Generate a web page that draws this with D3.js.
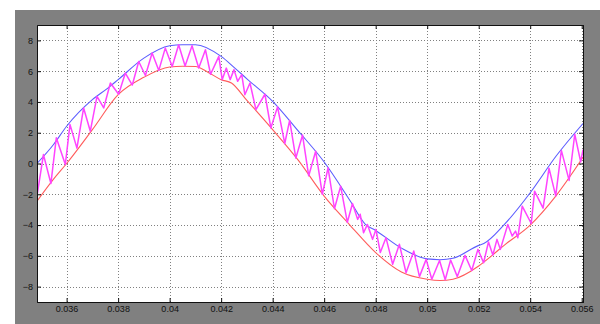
<!DOCTYPE html>
<html>
<head>
<meta charset="utf-8">
<script src="https://cdn.jsdelivr.net/npm/d3@7"></script>
<style>
  html, body { margin: 0; padding: 0; background: #fff; }
  svg { display: block; }
  .tick text { font-family: 'Liberation Sans', Arial, sans-serif; font-size: 9px; fill: #111; }
</style>
</head>
<body>
<div id="chart"></div>
<script>
// tick labels
var xTicks = [0.036, 0.038, 0.04, 0.042, 0.044, 0.046, 0.048, 0.05, 0.052, 0.054, 0.056];
var xTickLabels = ['0.036', '0.038', '0.04', '0.042', '0.044', '0.046', '0.048', '0.05', '0.052', '0.054', '0.056'];
var yTicks = [-8, -6, -4, -2, 0, 2, 4, 6, 8];

// upper envelope (blue)
var upperTimes  = [0.03485, 0.0355, 0.036, 0.037, 0.0376, 0.038, 0.039, 0.040, 0.0405, 0.041, 0.042, 0.0425, 0.043, 0.044, 0.045, 0.046, 0.047, 0.0476, 0.048, 0.049, 0.050, 0.0505, 0.051, 0.052, 0.0522, 0.053, 0.054, 0.055, 0.05605];
var upperValues = [0.0, 1.25, 2.42, 4.15, 4.9, 5.45, 6.85, 7.65, 7.72, 7.72, 6.96, 6.25, 5.5, 4.04, 2.1, 0.1, -2.4, -3.95, -4.35, -5.5, -6.2, -6.25, -6.16, -5.32, -5.2, -3.96, -1.9, 0.47, 2.6];

// lower envelope (red)
var lowerTimes  = [0.03485, 0.0355, 0.036, 0.037, 0.038, 0.039, 0.040, 0.0405, 0.041, 0.0415, 0.042, 0.0424, 0.043, 0.044, 0.045, 0.046, 0.047, 0.048, 0.049, 0.050, 0.0505, 0.051, 0.052, 0.0525, 0.053, 0.054, 0.055, 0.05605];
var lowerValues = [-2.45, -1.0, 0.0, 2.2, 4.47, 5.6, 6.27, 6.32, 6.3, 5.92, 5.45, 5.23, 4.1, 2.2, 0.2, -2.12, -4.0, -5.79, -7.05, -7.52, -7.6, -7.52, -6.66, -6.0, -5.3, -4.0, -2.1, 0.4];

// switching ripple (magenta), peak / trough pairs
var rippleTimes = [
  0.03485, 0.0351, 0.03539, 0.0356, 0.03595, 0.03613, 0.0364, 0.03666, 0.03692, 0.03718,
  0.03744, 0.0377, 0.03802, 0.03828, 0.03855, 0.0388, 0.03906, 0.03932, 0.03958, 0.03983,
  0.0401, 0.04035, 0.0406, 0.04087, 0.04113, 0.04139, 0.04159, 0.04191, 0.04204, 0.0422,
  0.04235, 0.0425, 0.04264, 0.0428, 0.04292, 0.04312, 0.04335, 0.0437, 0.04393, 0.04419,
  0.04447, 0.04466, 0.0449, 0.04516, 0.0454, 0.04567, 0.04593, 0.04615, 0.0464, 0.04664,
  0.0469, 0.0471, 0.0473, 0.0474, 0.04753, 0.04768, 0.04788, 0.04801, 0.04818, 0.0484,
  0.04866, 0.04892, 0.04918, 0.04948, 0.0497, 0.04996, 0.05018, 0.05048, 0.0507, 0.05091,
  0.05117, 0.05147, 0.05173, 0.05197, 0.05219, 0.05238, 0.05255, 0.05271, 0.05284, 0.05313,
  0.0533, 0.05343, 0.05352, 0.05369, 0.05404, 0.05417, 0.0545, 0.05473, 0.05499, 0.05521,
  0.05551, 0.05573, 0.05596, 0.05605];
var rippleValues = [
  -2.1, 0.58, -1.3, 1.67, -0.06, 2.53, 1.0, 3.61, 2.1, 4.36,
  3.61, 5.23, 4.5, 5.88, 5.1, 6.63, 5.72, 7.18, 6.05, 7.5,
  6.3, 7.72, 6.33, 7.65, 6.2, 7.39, 5.8, 6.96, 5.45, 6.2,
  5.45, 6.1, 5.34, 5.77, 4.47, 5.23, 3.5, 4.5, 2.31, 3.68,
  1.3, 2.8, 0.35, 1.85, -0.8, 0.8, -2.0, -0.28, -2.94, -1.47,
  -3.82, -2.6, -3.63, -3.3, -4.5, -3.96, -4.93, -4.28, -5.79, -4.82,
  -6.55, -5.25, -7.1, -5.69, -7.35, -6.23, -7.52, -6.3, -7.55, -6.27,
  -7.35, -5.97, -6.95, -5.58, -6.45, -5.1, -5.95, -4.93, -5.58, -3.96,
  -4.71, -4.39, -4.82, -2.77, -3.9, -1.8, -2.9, -0.3, -2.1, 0.85,
  -1.1, 1.9, 0.1, 0.9];

var width = 600, height = 324;
var box = {left: 37, top: 25, right: 583, bottom: 302};

var svg = d3.select('#chart').append('svg')
  .attr('width', width)
  .attr('height', height);

// grey figure background
svg.append('rect')
  .attr('x', 15).attr('y', 10)
  .attr('width', width - 15).attr('height', height - 10)
  .attr('fill', '#808080');

svg.append('rect')
  .attr('x', box.left).attr('y', box.top)
  .attr('width', box.right - box.left).attr('height', box.bottom - box.top)
  .attr('fill', '#fff');

var x = d3.scaleLinear()
  .domain([0.03485, 0.05605])
  .range([box.left, box.right]);

var y = d3.scaleLinear()
  .domain([-9, 9])
  .range([box.bottom, box.top]);

// dotted grid
var grid = svg.append('g').attr('class', 'grid')
  .attr('stroke', '#808080')
  .attr('stroke-width', 1)
  .attr('stroke-dasharray', '1,2')
  .attr('shape-rendering', 'crispEdges');

grid.selectAll('line.gx')
  .data(xTicks)
  .enter().append('line')
    .attr('class', 'gx')
    .attr('x1', d => Math.round(x(d)) + 0.5)
    .attr('x2', d => Math.round(x(d)) + 0.5)
    .attr('y1', box.top)
    .attr('y2', box.bottom);

grid.selectAll('line.gy')
  .data(yTicks)
  .enter().append('line')
    .attr('class', 'gy')
    .attr('y1', d => Math.round(y(d)) + 0.5)
    .attr('y2', d => Math.round(y(d)) + 0.5)
    .attr('x1', box.left)
    .attr('x2', box.right);

var pairs = (ts, vs) => ts.map((t, i) => [t, vs[i]]);

var smooth = d3.line()
  .x(d => x(d[0]))
  .y(d => y(d[1]))
  .curve(d3.curveMonotoneX);

var straight = d3.line()
  .x(d => x(d[0]))
  .y(d => y(d[1]));

svg.append('clipPath').attr('id', 'plotclip')
  .append('rect')
    .attr('x', box.left).attr('y', box.top)
    .attr('width', box.right - box.left).attr('height', box.bottom - box.top);

var curves = svg.append('g').attr('clip-path', 'url(#plotclip)');

curves.append('path')
  .datum(pairs(upperTimes, upperValues))
  .attr('d', smooth)
  .attr('fill', 'none')
  .attr('stroke', '#5c5cff')
  .attr('stroke-width', 1.1);

curves.append('path')
  .datum(pairs(lowerTimes, lowerValues))
  .attr('d', smooth)
  .attr('fill', 'none')
  .attr('stroke', '#ff5c5c')
  .attr('stroke-width', 1.1);

curves.append('path')
  .datum(pairs(rippleTimes, rippleValues))
  .attr('d', straight)
  .attr('fill', 'none')
  .attr('stroke', '#ff44ff')
  .attr('stroke-width', 1.5)
  .attr('stroke-linejoin', 'round');

// axes: ticks point inward on all four sides, like the scope window
svg.append('g')
  .attr('transform', 'translate(0,' + box.bottom + ')')
  .call(d3.axisBottom(x).tickValues(xTicks).tickFormat((d, i) => xTickLabels[i]).tickSize(-4).tickPadding(4));

svg.append('g')
  .attr('transform', 'translate(' + box.left + ',0)')
  .call(d3.axisLeft(y).tickValues(yTicks).tickSize(-4).tickPadding(4));

svg.append('g')
  .attr('transform', 'translate(0,' + box.top + ')')
  .call(d3.axisTop(x).tickValues(xTicks).tickFormat('').tickSize(-4));

svg.append('g')
  .attr('transform', 'translate(' + box.right + ',0)')
  .call(d3.axisRight(y).tickValues(yTicks).tickFormat('').tickSize(-4));

svg.selectAll('.domain').attr('stroke', '#111');
svg.selectAll('.tick line').attr('stroke', '#111');
</script>
</body>
</html>
